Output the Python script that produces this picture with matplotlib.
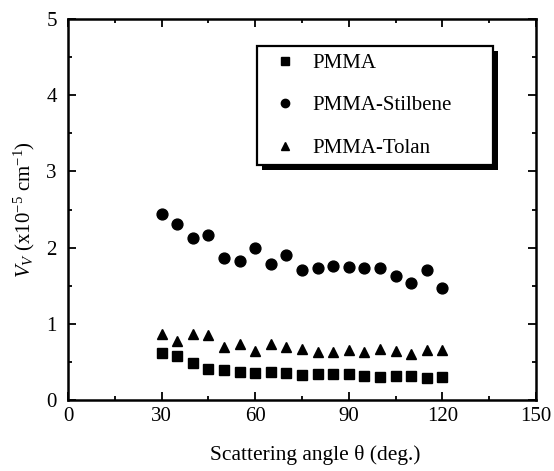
import matplotlib
matplotlib.use("Agg")
import matplotlib.pyplot as plt
import matplotlib.patheffects as pe
from matplotlib.ticker import MultipleLocator

plt.rcParams['font.family'] = ['Liberation Serif', 'DejaVu Serif']
plt.rcParams['mathtext.fontset'] = 'custom'
plt.rcParams['mathtext.rm'] = 'Liberation Serif'
plt.rcParams['mathtext.it'] = 'Liberation Serif:italic'

# Scattering angle (deg.)
angle = [30, 35, 40, 45, 50, 55, 60, 65, 70, 75, 80, 85, 90, 95, 100, 105, 110, 115, 120]

# V_V scattering (x10^-5 cm^-1)
pmma = [0.62, 0.58, 0.49, 0.41, 0.39, 0.37, 0.36, 0.37, 0.35, 0.33, 0.34, 0.34, 0.34,
        0.32, 0.30, 0.32, 0.31, 0.29, 0.30]
stilbene = [2.44, 2.31, 2.12, 2.16, 1.86, 1.82, 1.99, 1.78, 1.90, 1.71, 1.73, 1.76, 1.74,
            1.73, 1.73, 1.63, 1.54, 1.70, 1.47]
tolan = [0.86, 0.78, 0.87, 0.85, 0.70, 0.73, 0.64, 0.74, 0.70, 0.67, 0.63, 0.63, 0.65,
         0.63, 0.67, 0.64, 0.61, 0.66, 0.66]

fig = plt.figure(figsize=(5.54, 4.71), dpi=100)
ax = fig.add_axes([0.1227, 0.1507, 0.845, 0.809])

ax.plot(angle, pmma, 's', color='black', markersize=7, label='PMMA')
ax.plot(angle, stilbene, 'o', color='black', markersize=7.8, label='PMMA-Stilbene')
ax.plot(angle, tolan, '^', color='black', markersize=6.8, label='PMMA-Tolan')

ax.set_xlim(0, 150)
ax.set_ylim(0, 5)
ax.xaxis.set_major_locator(MultipleLocator(30))
ax.xaxis.set_minor_locator(MultipleLocator(15))
ax.yaxis.set_major_locator(MultipleLocator(1))
ax.yaxis.set_minor_locator(MultipleLocator(0.5))
ax.tick_params(which='both', direction='in', top=True, right=True, width=1.3,
               labelsize=15)
ax.tick_params(axis='x', pad=5)
ax.tick_params(axis='y', pad=8)
ax.tick_params(which='major', length=6)
ax.tick_params(which='minor', length=3)
for s in ax.spines.values():
    s.set_linewidth(1.8)

ax.set_xlabel('Scattering angle θ (deg.)', fontsize=15.5)
ax.xaxis.set_label_coords(0.528, -0.118)
ax.set_ylabel(r'$V_V$ (x10$^{-5}$ cm$^{-1}$)', fontsize=15, labelpad=7)

leg = ax.legend(loc='upper left', bbox_to_anchor=(0.404, 0.929, 0.504, 0.0),
                mode='expand', fontsize=15, frameon=True, fancybox=False,
                framealpha=1.0, facecolor='white',
                numpoints=1, handletextpad=0.3, labelspacing=1.1,
                borderpad=0.35, handlelength=2.0, borderaxespad=0)
frame = leg.get_frame()
frame.set_edgecolor('black')
frame.set_linewidth(1.6)
frame.set_path_effects([pe.SimplePatchShadow(offset=(3.5, -3.5), shadow_rgbFace='black',
                                             alpha=1.0),
                        pe.Normal()])
for h in leg.legend_handles:
    h.set_markersize(6)

fig.savefig('out.png', dpi=100)
